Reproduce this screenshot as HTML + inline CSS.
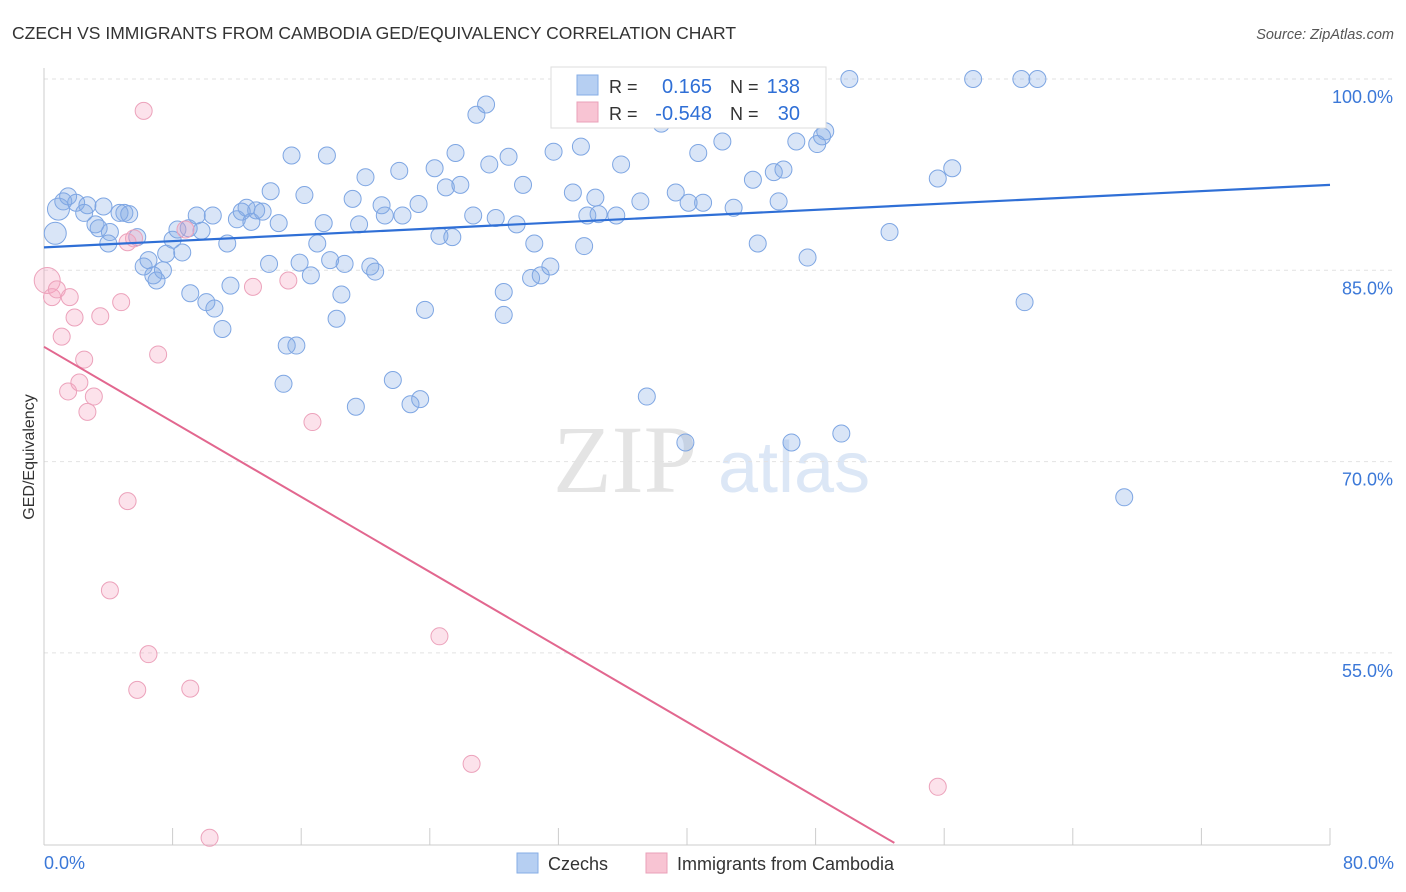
<!DOCTYPE html>
<html><head><meta charset="utf-8"><style>
body{margin:0;background:#fff;font-family:"Liberation Sans",sans-serif;}
svg{display:block}
</style></head><body>
<svg id="chart" width="1406" height="892" viewBox="0 0 1406 892" xmlns="http://www.w3.org/2000/svg">
<text x="12" y="39" font-size="17.5" fill="#333">CZECH VS IMMIGRANTS FROM CAMBODIA GED/EQUIVALENCY CORRELATION CHART</text>
<text x="1394" y="39" font-size="14.5" fill="#555" text-anchor="end" font-style="italic">Source: ZipAtlas.com</text>
<g>
<text x="553" y="492" font-size="96" fill="#e4e4e4" font-family="Liberation Serif,serif">ZIP</text>
<text x="718" y="492" font-size="72" fill="#dce7f6">atlas</text>
</g>
<g id="grid"></g>
<g id="axes"></g>
<g id="pts"></g>
<g id="lines"></g>
<text transform="translate(34,457) rotate(-90)" font-size="16" fill="#333" text-anchor="middle">GED/Equivalency</text>
<g>
<rect x="551" y="67" width="275" height="61" fill="#fff" stroke="#ddd"/>
<rect x="577" y="75" width="21" height="20" fill="#b6cff2" stroke="#86aee6"/>
<rect x="577" y="102" width="21" height="20" fill="#f8c4d3" stroke="#eaa0b8"/>
<text x="609" y="93" font-size="18" fill="#333">R = </text><text x="712" y="93" font-size="20" fill="#2f6fd6" text-anchor="end">0.165</text>
<text x="730" y="93" font-size="18" fill="#333">N = </text><text x="800" y="93" font-size="20" fill="#2f6fd6" text-anchor="end">138</text>
<text x="609" y="120" font-size="18" fill="#333">R = </text><text x="712" y="120" font-size="20" fill="#2f6fd6" text-anchor="end">-0.548</text>
<text x="730" y="120" font-size="18" fill="#333">N = </text><text x="800" y="120" font-size="20" fill="#2f6fd6" text-anchor="end">30</text>
</g>
<g>
<rect x="517" y="853" width="21" height="20" fill="#b6cff2" stroke="#86aee6"/>
<text x="548" y="870" font-size="18" fill="#333">Czechs</text>
<rect x="646" y="853" width="21" height="20" fill="#f8c4d3" stroke="#eaa0b8"/>
<text x="677" y="870" font-size="18" fill="#333">Immigrants from Cambodia</text>
</g>
</svg>
<script>
const NS="http://www.w3.org/2000/svg";
const xTickLabels=["0.0%","80.0%"];
const yTicks=[100,85,70,55];
const yTickLabels=["100.0%","85.0%","70.0%","55.0%"];
const czechX=[0.7,0.9,1.5,1.2,2.0,2.7,2.5,3.2,3.4,3.7,4.1,4.0,4.7,5.0,5.3,5.8,6.2,6.5,6.8,7.0,7.4,7.6,8.0,8.3,8.6,9.0,9.1,9.5,9.8,10.1,10.5,10.6,11.1,11.4,11.6,12.0,12.3,12.6,12.9,13.2,13.6,14.0,14.1,14.6,14.9,15.1,15.4,15.7,15.9,16.2,16.6,17.0,17.4,17.6,17.8,18.2,18.5,18.7,19.2,19.4,19.6,20.0,20.3,20.6,21.0,21.2,21.7,22.1,22.3,22.8,23.3,23.4,23.7,24.3,24.6,25.0,25.4,25.6,25.9,26.7,26.9,27.5,27.7,28.1,28.6,28.6,28.9,29.4,29.8,30.3,30.5,30.9,31.5,31.7,32.2,32.9,33.4,33.6,33.8,34.3,34.5,35.6,35.9,36.3,37.1,37.5,38.4,39.3,39.9,40.1,40.7,41.0,42.2,42.9,44.1,44.4,45.4,45.7,46.0,46.5,46.8,47.5,48.1,48.4,48.6,49.6,50.1,52.6,55.6,56.5,57.8,60.8,61.0,61.8,67.2];
const czechY=[87.9,89.8,90.8,90.4,90.3,90.1,89.5,88.6,88.3,90.0,88.0,87.1,89.5,89.5,89.4,87.6,85.3,85.8,84.6,84.2,85.0,86.3,87.4,88.2,86.4,88.3,83.2,89.3,88.1,82.5,89.3,82.0,80.4,87.1,83.8,89.0,89.6,89.9,88.8,89.7,89.6,85.5,91.2,88.7,76.1,79.1,94.0,79.1,85.6,90.9,84.6,87.1,88.7,94.0,85.8,81.2,83.1,85.5,90.6,74.3,88.6,92.3,85.3,84.9,90.1,89.3,76.4,92.8,89.3,74.5,90.2,74.9,81.9,93.0,87.7,91.5,87.6,94.2,91.7,89.3,97.2,98.0,93.3,89.1,83.3,81.5,93.9,88.6,91.7,84.4,87.1,84.6,85.3,94.3,98.5,91.1,94.7,86.9,89.3,90.7,89.4,89.3,93.3,99.9,90.4,75.1,96.5,91.1,71.5,90.3,94.2,90.3,95.1,89.9,92.1,87.1,92.7,90.4,92.9,71.5,95.1,86.0,94.9,95.5,95.9,72.2,100.0,88.0,92.2,93.0,100.0,100.0,82.5,100.0,67.2];
const cambX=[0.2,0.5,0.8,1.1,1.6,1.9,1.5,2.2,2.5,2.7,3.1,3.5,4.1,4.8,5.2,5.2,5.6,5.8,6.2,6.5,7.1,8.8,9.1,10.3,13.0,15.2,16.7,24.6,26.6,55.6];
const cambY=[84.2,82.9,83.5,79.8,82.9,81.3,75.5,76.2,78.0,73.9,75.1,81.4,59.9,82.5,66.9,87.2,87.5,52.1,97.5,54.9,78.4,88.2,52.2,40.5,83.7,84.2,73.1,56.3,46.3,44.5];
const czechTrend=[86.8,91.7];
const cambTrend=[79.0,40.1,52.9];
const X=v=>44+v*(1286/80);
const Y=v=>79+(100-v)*12.753;
function mk(t,a,p){const e=document.createElementNS(NS,t);for(const k in a)e.setAttribute(k,a[k]);p.appendChild(e);return e;}
const grid=document.getElementById('grid'),axes=document.getElementById('axes'),pts=document.getElementById('pts'),lines=document.getElementById('lines');
yTicks.forEach((t,i)=>{
 const l=mk('line',{x1:44,x2:1394,y1:Y(t),y2:Y(t),stroke:'#e2e2e2','stroke-dasharray':'4,4'},grid);
 
 
 const tx=mk('text',{x:1393,y:Y(t)+24,'font-size':18,fill:'#3b78d8','text-anchor':'end'},axes);
 tx.textContent=yTickLabels[i];
 
 
});
const ax=mk('line',{x1:44,x2:1330,y1:845,y2:845,stroke:'#ccc'},axes);


const ay=mk('line',{x1:44,x2:44,y1:68,y2:845,stroke:'#ccc'},axes);


for(let i=1;i<=10;i++){const tk=mk('line',{x1:X(i*8),x2:X(i*8),y1:828,y2:845,stroke:'#ccc'},axes);
 
 }
const xl0=mk('text',{x:44,y:869,'font-size':18,fill:'#3b78d8'},axes);xl0.textContent=xTickLabels[0];


const xl1=mk('text',{x:1394,y:869,'font-size':18,fill:'#3b78d8','text-anchor':'end'},axes);xl1.textContent=xTickLabels[1];


czechX.forEach((x,i)=>{const big=i<2;const c=mk('circle',{cx:X(x),cy:Y(czechY[i]),r:big?11:8.5,fill:'rgba(130,170,230,0.3)',stroke:'#7ea6e3','stroke-width':1},pts);
 
 });
cambX.forEach((x,i)=>{const big=i==0;const c=mk('circle',{cx:X(x),cy:Y(cambY[i]),r:big?13:8.5,fill:'rgba(245,160,190,0.3)',stroke:'#eca2bb','stroke-width':1},pts);
 
 });
const bl=mk('line',{x1:X(0),y1:Y(czechTrend[0]),x2:X(80),y2:Y(czechTrend[1]),stroke:'#2f6fd6','stroke-width':2.2},lines);


const pl=mk('line',{x1:X(0),y1:Y(cambTrend[0]),x2:X(cambTrend[2]),y2:Y(cambTrend[1]),stroke:'#e2678f','stroke-width':2},lines);


</script>
</body></html>
